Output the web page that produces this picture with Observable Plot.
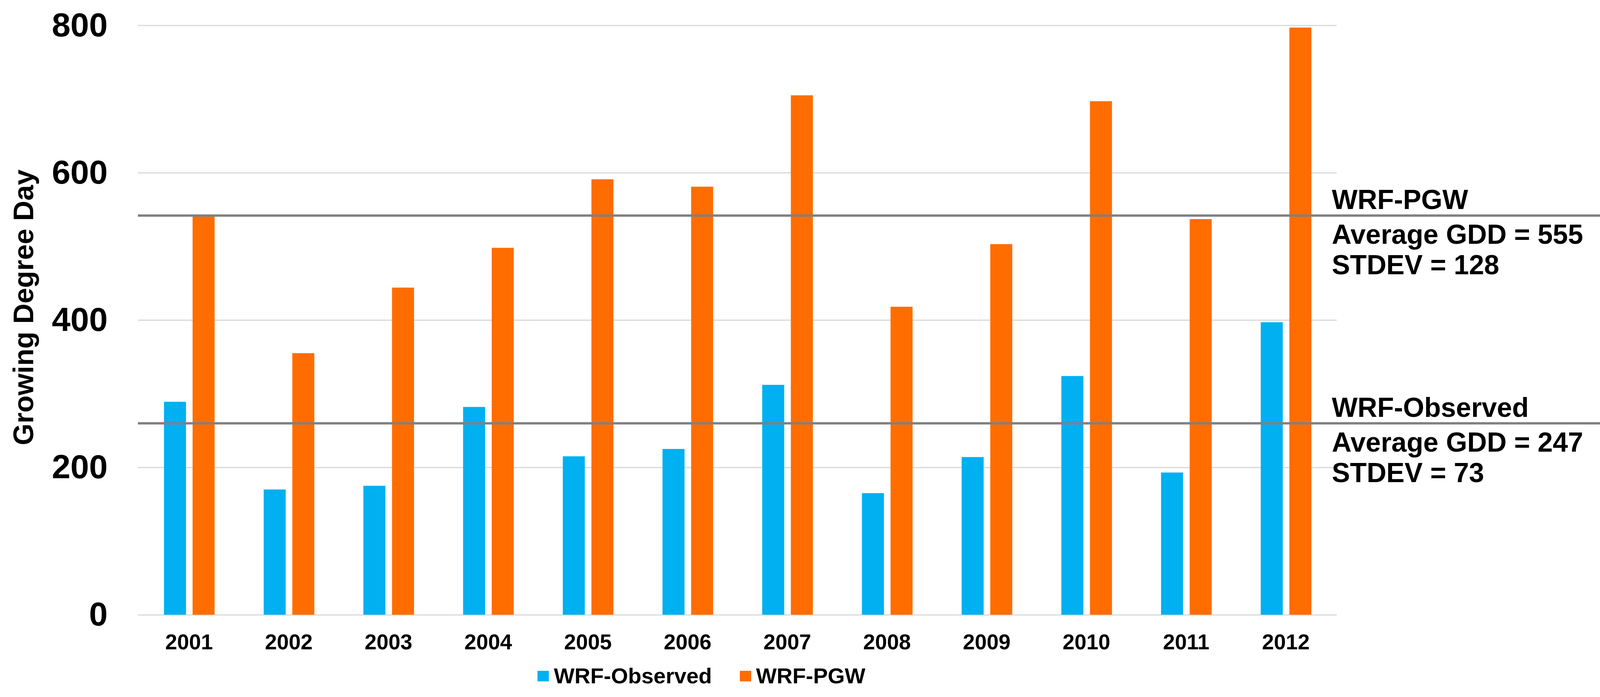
<!DOCTYPE html>
<html><head><meta charset="utf-8">
<script src="https://cdn.jsdelivr.net/npm/d3@7"></script>
<script src="https://cdn.jsdelivr.net/npm/@observablehq/plot@0.6"></script>
<style>
body{margin:0;background:#fff;font-family:"Liberation Sans",Arial,sans-serif;font-weight:bold;color:#000}
#chart svg{display:block}
#legend{height:70px;display:flex;align-items:center;padding-left:1376px;font-size:56px;line-height:64px}
.item{display:flex;align-items:center;margin-right:71px}
.sw{width:29px;height:27px;margin-right:13px}
</style></head><body>
<div id="chart"></div><div id="legend"></div>
<script>
const years = ["2001","2002","2003","2004","2005","2006","2007","2008","2009","2010","2011","2012"];
const observed = [289, 170, 175, 282, 215, 225, 312, 165, 214, 324, 193, 397];
const pgw = [541, 355, 444, 498, 591, 581, 705, 418, 503, 697, 537, 797];
const seriesNames = ["WRF-Observed", "WRF-PGW"];
const seriesColors = ["#00b0f0", "#ff6d00"];
const yTicks = [0, 200, 400, 600, 800];
const avgValues = [542, 260];
const avgHeadings = ["WRF-PGW", "WRF-Observed"];
const avgDetails = ["Average GDD = 555\nSTDEV = 128", "Average GDD = 247\nSTDEV = 73"];
const yTitle = "Growing Degree Day";

const data = years.flatMap((y, i) => [
  {year: y, series: seriesNames[0], value: observed[i]},
  {year: y, series: seriesNames[1], value: pgw[i]}
]);
const avg = avgValues.map((v, i) => ({value: v, heading: avgHeadings[i], detail: avgDetails[i]}));

const plot = Plot.plot({
  width: 4108, height: 1700,
  marginLeft: 354, marginRight: 676, marginTop: 65, marginBottom: 122,
  style: {fontFamily: '"Liberation Sans", Arial, sans-serif', fontWeight: "bold", color: "#000", background: "#fff", overflow: "visible"},
  x: {type: "band", domain: years, padding: 0, label: null},
  y: {domain: [0, 800], label: null},
  color: {domain: seriesNames, range: seriesColors},
  marks: [
    Plot.gridY(yTicks, {stroke: "#d9d9d9", strokeOpacity: 1, strokeWidth: 3}),
    Plot.barY(data.filter(d => d.series === seriesNames[0]), {x: "year", y: "value", fill: "series", insetLeft: 64, insetRight: 135.5}),
    Plot.barY(data.filter(d => d.series === seriesNames[1]), {x: "year", y: "value", fill: "series", insetLeft: 137.5, insetRight: 62}),
    Plot.ruleY(avg, {y: "value", stroke: "#808080", strokeWidth: 6, insetRight: -676}),
    Plot.text(avg, {y: "value", text: "heading", frameAnchor: "right", textAnchor: "start", lineAnchor: "bottom", dx: -13, dy: -17, fontSize: 70, fill: "#000"}),
    Plot.text(avg, {y: "value", text: "detail", frameAnchor: "right", textAnchor: "start", lineAnchor: "top", lineHeight: 1.12, dx: -13, dy: 17, fontSize: 70, fill: "#000"}),
    Plot.axisY(yTicks, {tickSize: 0, tickPadding: 78, fontSize: 86, label: null}),
    Plot.axisX({tickSize: 0, tickPadding: 49, fontSize: 55, label: null}),
    Plot.text([yTitle], {frameAnchor: "left", text: d => d, rotate: -90, textAnchor: "middle", dx: -320, dy: -33, lineAnchor: "top", fontSize: 72, fill: "#000"})
  ]
});
document.getElementById("chart").appendChild(plot);

const legend = document.getElementById("legend");
seriesNames.forEach((name, i) => {
  const item = document.createElement("div");
  item.className = "item";
  const sw = document.createElement("div");
  sw.className = "sw";
  sw.style.background = seriesColors[i];
  const label = document.createElement("span");
  label.textContent = name;
  item.appendChild(sw);
  item.appendChild(label);
  legend.appendChild(item);
});
</script>
</body></html>
